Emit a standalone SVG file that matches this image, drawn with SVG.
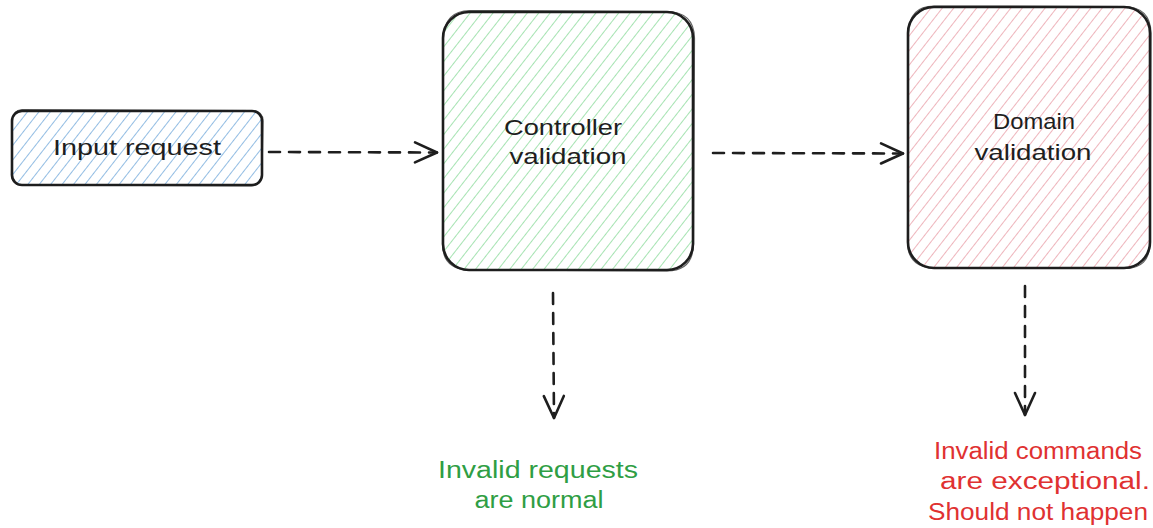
<svg xmlns="http://www.w3.org/2000/svg" width="1153" height="528" viewBox="0 0 1153 528">
  <style>
    .box { stroke: #1e1e1e; stroke-width: 2.6; stroke-linejoin: round; }
    .box2 { fill: none; stroke: #1e1e1e; stroke-width: 1.2; opacity: 0.7; }
    .lbl { font-family: "Liberation Sans", "DejaVu Sans", sans-serif; font-size: 22px; fill: #1e1e1e; text-anchor: middle; }
    .note { font-family: "Liberation Sans", "DejaVu Sans", sans-serif; font-size: 23px; text-anchor: middle; }
    .conn { fill: none; stroke: #1e1e1e; stroke-width: 2.6; stroke-dasharray: 11 9; stroke-linecap: round; }
  </style>
  <defs>
    <!-- diagonal hachure fills -->
    <pattern id="hatchBlue" patternUnits="userSpaceOnUse" width="9" height="9" patternTransform="rotate(38)">
      <line x1="0" y1="0" x2="0" y2="9" stroke="#93bde3" stroke-width="2"/>
    </pattern>
    <pattern id="hatchGreen" patternUnits="userSpaceOnUse" width="9" height="9" patternTransform="rotate(38)">
      <line x1="0" y1="0" x2="0" y2="9" stroke="#a6e3b2" stroke-width="2"/>
    </pattern>
    <pattern id="hatchRed" patternUnits="userSpaceOnUse" width="9" height="9" patternTransform="rotate(38)">
      <line x1="0" y1="0" x2="0" y2="9" stroke="#eeb5bc" stroke-width="2"/>
    </pattern>
    <!-- open chevron arrowhead -->
    <marker id="chev" viewBox="-26 -14 30 28" markerWidth="30" markerHeight="28" refX="0" refY="0" orient="auto" markerUnits="userSpaceOnUse">
      <path d="M -22 -10 L 0 0 L -22 10" fill="none" stroke="#1e1e1e" stroke-width="2.6" stroke-linecap="round" stroke-linejoin="round"/>
    </marker>
  </defs>

  <rect width="1153" height="528" fill="#ffffff"/>

  <g id="input-request">
    <rect class="box" x="12" y="111" width="250" height="74" rx="10" fill="url(#hatchBlue)"/>
    <path class="box2" d="M 22 109.5 L 252 110.5 Q 263 111 263 121 L 262 176 Q 261 186 251 186 L 21 185 Q 11 184 11.5 174 L 12.5 120 Q 13 110 22 109.5"/>
    <text class="lbl" x="137" y="155" textLength="168" lengthAdjust="spacingAndGlyphs">Input request</text>
  </g>

  <g id="controller-validation">
    <rect class="box" x="443" y="12" width="250" height="258" rx="26" fill="url(#hatchGreen)"/>
    <path class="box2" d="M 470 10.5 L 667 11.5 Q 694 12 694.5 38 L 693.5 244 Q 693 271 667 271 L 469 270 Q 442 269 442.5 243 L 443.5 38 Q 444 11 470 10.5"/>
    <text class="lbl" x="563" y="135" textLength="118" lengthAdjust="spacingAndGlyphs">Controller</text>
    <text class="lbl" x="568" y="164" textLength="117" lengthAdjust="spacingAndGlyphs">validation</text>
  </g>

  <g id="domain-validation">
    <rect class="box" x="908" y="7" width="242" height="261" rx="26" fill="url(#hatchRed)"/>
    <path class="box2" d="M 934 6 L 1124 6.5 Q 1150.5 7 1151 33 L 1150 242 Q 1150 269 1124 268.5 L 934 268 Q 907 267 907.5 241 L 908.5 33 Q 909 6 934 6"/>
    <text class="lbl" x="1034" y="129" textLength="82" lengthAdjust="spacingAndGlyphs">Domain</text>
    <text class="lbl" x="1033" y="160" textLength="117" lengthAdjust="spacingAndGlyphs">validation</text>
  </g>

  <g id="connectors">
    <path class="conn" d="M 269 152 L 437 152.5" marker-end="url(#chev)"/>
    <path class="conn" d="M 713 153 L 903 153.5" marker-end="url(#chev)"/>
    <path class="conn" d="M 553 293 L 554 418" marker-end="url(#chev)"/>
    <path class="conn" d="M 1025 286 L 1025 415" marker-end="url(#chev)"/>
  </g>

  <g id="note-controller">
    <text class="note" x="538" y="478" fill="#2f9e44" textLength="200" lengthAdjust="spacingAndGlyphs">Invalid requests</text>
    <text class="note" x="539" y="508" fill="#2f9e44" textLength="129" lengthAdjust="spacingAndGlyphs">are normal</text>
  </g>

  <g id="note-domain">
    <text class="note" x="1038" y="459" fill="#e03131" textLength="208" lengthAdjust="spacingAndGlyphs">Invalid commands</text>
    <text class="note" x="1045" y="489" fill="#e03131" textLength="210" lengthAdjust="spacingAndGlyphs">are exceptional.</text>
    <text class="note" x="1038" y="520" fill="#e03131" textLength="220" lengthAdjust="spacingAndGlyphs">Should not happen</text>
  </g>
</svg>
